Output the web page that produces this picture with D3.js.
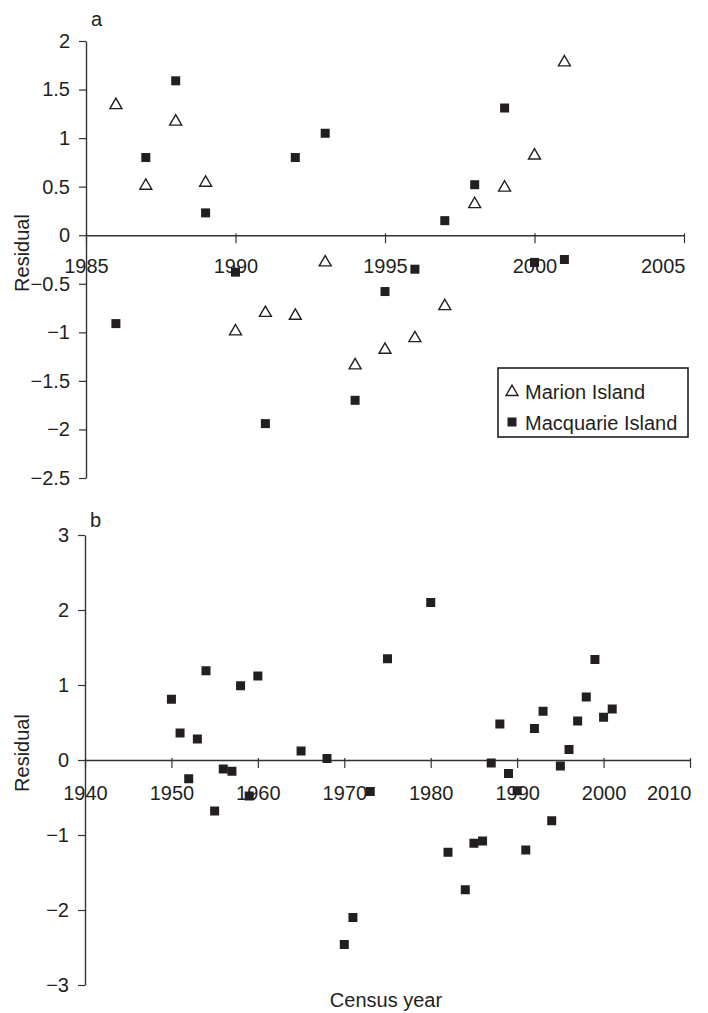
<!DOCTYPE html>
<html>
<head>
<meta charset="utf-8">
<script src="https://cdn.jsdelivr.net/npm/d3@7"></script>
<style>
  body { margin: 0; background: #fff; }
  svg { display: block; font-family: "Liberation Sans", Arial, sans-serif; }
</style>
</head>
<body>
<div id="chart"></div>
<script>
// panel a: census years and residuals
const aYears = [1986, 1987, 1988, 1989, 1990, 1991, 1992, 1993, 1994, 1995, 1996, 1997, 1998, 1999, 2000, 2001];
const marion = [1.35, 0.52, 1.18, 0.55, -0.98, -0.79, -0.82, -0.27, -1.33, -1.17, -1.05, -0.72, 0.33, 0.5, 0.83, 1.79];
const macquarieA = [-0.91, 0.8, 1.59, 0.23, -0.38, -1.94, 0.8, 1.05, -1.7, -0.58, -0.35, 0.15, 0.52, 1.31, -0.28, -0.25];
const aXTicks = [1985, 1990, 1995, 2000, 2005];
const aYTicks = [2, 1.5, 1, 0.5, 0, -0.5, -1, -1.5, -2, -2.5];

// panel b
const bYears = [1950, 1951, 1952, 1953, 1954, 1955, 1956, 1957, 1958, 1959, 1960, 1965, 1968, 1970, 1971, 1973, 1975, 1980,
  1982, 1984, 1985, 1986, 1987, 1988, 1989, 1990, 1991, 1992, 1993, 1994, 1995, 1996, 1997, 1998, 1999, 2000, 2001];
const macquarieB = [0.81, 0.36, -0.25, 0.28, 1.19, -0.68, -0.12, -0.15, 0.99, -0.48, 1.12, 0.12, 0.02, -2.46, -2.1, -0.42, 1.35, 2.1,
  -1.23, -1.73, -1.11, -1.08, -0.04, 0.48, -0.18, -0.41, -1.2, 0.42, 0.65, -0.81, -0.08, 0.14, 0.52, 0.84, 1.34, 0.57, 0.68];
const bXTicks = [1940, 1950, 1960, 1970, 1980, 1990, 2000, 2010];
const bYTicks = [3, 2, 1, 0, -1, -2, -3];

const ink = "#231f20";
const axisCol = "#333";
const fmt = (d) => String(d).replace("-", "\u2212");

const svg = d3.select("#chart").append("svg")
  .attr("width", 708).attr("height", 1013);
svg.append("rect").attr("width", 708).attr("height", 1013).attr("fill", "#fff");

const tri = d3.symbol().type(d3.symbolTriangle).size(62);

function drawPanel(o) {
  const x = d3.scaleLinear().domain(o.xDomain).range(o.xRange);
  const y = d3.scaleLinear().domain(o.yDomain).range(o.yRange);
  const g = svg.append("g");

  // y axis
  g.append("g")
    .attr("transform", `translate(${o.xRange[0]},0)`)
    .call(d3.axisLeft(y).tickValues(o.yTicks).tickFormat(fmt).tickSize(7).tickSizeOuter(0).tickPadding(9))
    .call((a) => {
      a.select(".domain").attr("stroke", axisCol).attr("stroke-width", 1.4);
      a.selectAll(".tick line").attr("stroke", axisCol).attr("stroke-width", 1.2);
      a.selectAll("text").attr("fill", ink).style("font-size", "20px");
    });

  // x axis along zero line
  const last = o.xTicks[o.xTicks.length - 1];
  g.append("g")
    .attr("transform", `translate(0,${y(0)})`)
    .call(d3.axisBottom(x).tickValues(o.xTicks).tickFormat(d3.format("d")).tickSize(8).tickSizeOuter(0))
    .call((a) => {
      a.select(".domain").attr("stroke", axisCol).attr("stroke-width", 1.4);
      a.selectAll(".tick line").attr("stroke", axisCol).attr("stroke-width", 1.2).attr("y1", -2);
      a.selectAll("text").attr("fill", ink).style("font-size", "20px")
        .attr("y", o.labelDrop).attr("dy", 0);
      // last label kept inside the plot, like the original
      a.selectAll(".tick").filter((d) => d === last).select("text")
        .attr("text-anchor", "end").attr("x", 1);
    });

  // panel letter
  g.append("text").attr("x", o.xRange[0] + 5).attr("y", o.letterY)
    .attr("fill", ink).style("font-size", "20px").text(o.letter);

  // y title
  g.append("text")
    .attr("transform", `translate(29,${o.titleY}) rotate(-90)`)
    .attr("text-anchor", "middle").attr("fill", ink).style("font-size", "20px")
    .text("Residual");

  return { g, x, y };
}

// ----- panel a
const pa = drawPanel({
  xDomain: [1985, 2005], xRange: [86, 684],
  yDomain: [-2.5, 2], yRange: [478, 41],
  xTicks: aXTicks, yTicks: aYTicks, labelDrop: 38,
  letter: "a", letterY: 26, titleY: 253
});

pa.g.selectAll(".sqA").data(aYears).enter().append("rect")
  .attr("class", "sqA")
  .attr("x", (d) => pa.x(d) - 4.5)
  .attr("y", (d, i) => pa.y(macquarieA[i]) - 4.5)
  .attr("width", 9).attr("height", 9).attr("fill", ink);

pa.g.selectAll(".triA").data(aYears).enter().append("path")
  .attr("class", "triA")
  .attr("transform", (d, i) => `translate(${pa.x(d)},${pa.y(marion[i]) + 1})`)
  .attr("d", tri)
  .attr("fill", "#fff").attr("stroke", ink).attr("stroke-width", 1.4);

// legend
const lg = pa.g.append("g").attr("transform", "translate(498,368)");
lg.append("rect").attr("width", 190).attr("height", 69)
  .attr("fill", "#fff").attr("stroke", ink).attr("stroke-width", 1.6);
lg.append("path").attr("transform", "translate(14,24)").attr("d", tri)
  .attr("fill", "#fff").attr("stroke", ink).attr("stroke-width", 1.4);
lg.append("rect").attr("x", 9.5).attr("y", 49.5).attr("width", 9).attr("height", 9).attr("fill", ink);
lg.append("text").attr("x", 27).attr("y", 31).attr("fill", ink).style("font-size", "20px").text("Marion Island");
lg.append("text").attr("x", 27).attr("y", 62).attr("fill", ink).style("font-size", "20px").text("Macquarie Island");

// ----- panel b
const pb = drawPanel({
  xDomain: [1940, 2010], xRange: [85, 690],
  yDomain: [-3, 3], yRange: [985, 535],
  xTicks: bXTicks, yTicks: bYTicks, labelDrop: 40,
  letter: "b", letterY: 527, titleY: 753
});

pb.g.selectAll(".sqB").data(bYears).enter().append("rect")
  .attr("class", "sqB")
  .attr("x", (d) => pb.x(d) - 4.5)
  .attr("y", (d, i) => pb.y(macquarieB[i]) - 4.5)
  .attr("width", 9).attr("height", 9).attr("fill", ink);

svg.append("text").attr("x", 386).attr("y", 1007)
  .attr("text-anchor", "middle").attr("fill", ink).style("font-size", "20px")
  .text("Census year");
</script>
</body>
</html>
